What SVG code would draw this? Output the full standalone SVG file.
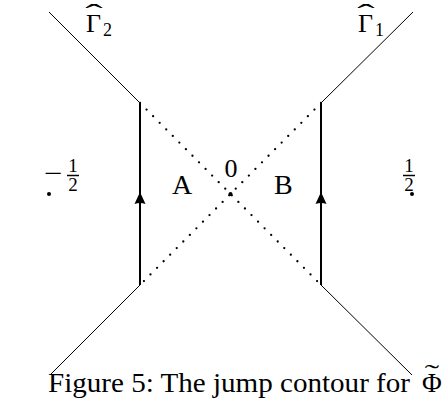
<svg xmlns="http://www.w3.org/2000/svg" width="446" height="410" viewBox="0 0 446 410">
<style>
text{font-family:"Liberation Serif","DejaVu Serif",serif;fill:#000}
.thin{stroke:#000;stroke-width:1;fill:none}
.thick{stroke:#000;stroke-width:2;fill:none}
.dot{stroke:#000;stroke-width:2.3;stroke-linecap:round;stroke-dasharray:0 9.3;fill:none}
.pt{fill:#000}
</style>
<defs>
<path id="ah" d="M0,-1 L-5.5,11 Q0,9 5.5,11 Z" fill="#000"/>
</defs>
<rect width="446" height="410" fill="#fff"/>
<g id="connectors">
<path class="thin" d="M49,12 L140,103"/>
<path class="thin" d="M413,12 L321,103"/>
<path class="thin" d="M140,285 L50,375"/>
<path class="thin" d="M321,285 L412,375"/>
<path class="thick" d="M140,103 L140,285"/>
<path class="thick" d="M321,103 L321,285"/>
<path class="dot" d="M140,103 L321,285"/>
<path class="dot" d="M321,103 L140,285"/>
<use href="#ah" x="140" y="193"/>
<use href="#ah" x="321" y="193"/>
</g>
<g id="gamma2">
<text x="86" y="32" font-size="26">Γ</text>
<text x="103" y="36" font-size="18">2</text>
<text x="94" y="22" font-size="26" text-anchor="middle" transform="translate(94,0) scale(2,1) translate(-94,0)">ˆ</text>
</g>
<g id="gamma1">
<text x="358" y="32" font-size="26">Γ</text>
<text x="375" y="36" font-size="18">1</text>
<text x="366" y="22" font-size="26" text-anchor="middle" transform="translate(366,0) scale(2,1) translate(-366,0)">ˆ</text>
</g>
<g id="minus-half">
<circle class="pt" cx="49" cy="194" r="2"/>
<text x="53.5" y="182" font-size="26" text-anchor="middle" transform="translate(53.5,0) scale(1.25,1) translate(-53.5,0)">−</text>
<text x="73" y="172" font-size="19" text-anchor="middle">1</text>
<line x1="67" y1="175.5" x2="79" y2="175.5" stroke="#000" stroke-width="1.5"/>
<text x="73" y="191" font-size="19" text-anchor="middle">2</text>
</g>
<g id="half">
<circle class="pt" cx="412" cy="194" r="2"/>
<text x="409" y="172" font-size="19" text-anchor="middle">1</text>
<line x1="403" y1="175.5" x2="415" y2="175.5" stroke="#000" stroke-width="1.5"/>
<text x="409" y="191" font-size="19" text-anchor="middle">2</text>
</g>
<g id="origin">
<circle class="pt" cx="230.5" cy="194" r="2"/>
<text x="231" y="177" font-size="26" text-anchor="middle">0</text>
</g>
<g id="regionA"><text x="172" y="194" font-size="28">A</text></g>
<g id="regionB"><text x="274" y="194" font-size="28">B</text></g>
<g id="caption">
<text x="48" y="392" font-size="27" textLength="362" lengthAdjust="spacingAndGlyphs">Figure 5:  The jump contour for</text>
<text x="422" y="392" font-size="27">Φ</text>
<text x="432" y="381" font-size="24" text-anchor="middle" transform="translate(432,0) scale(1.8,1) translate(-432,0)">˜</text>
</g>
</svg>
